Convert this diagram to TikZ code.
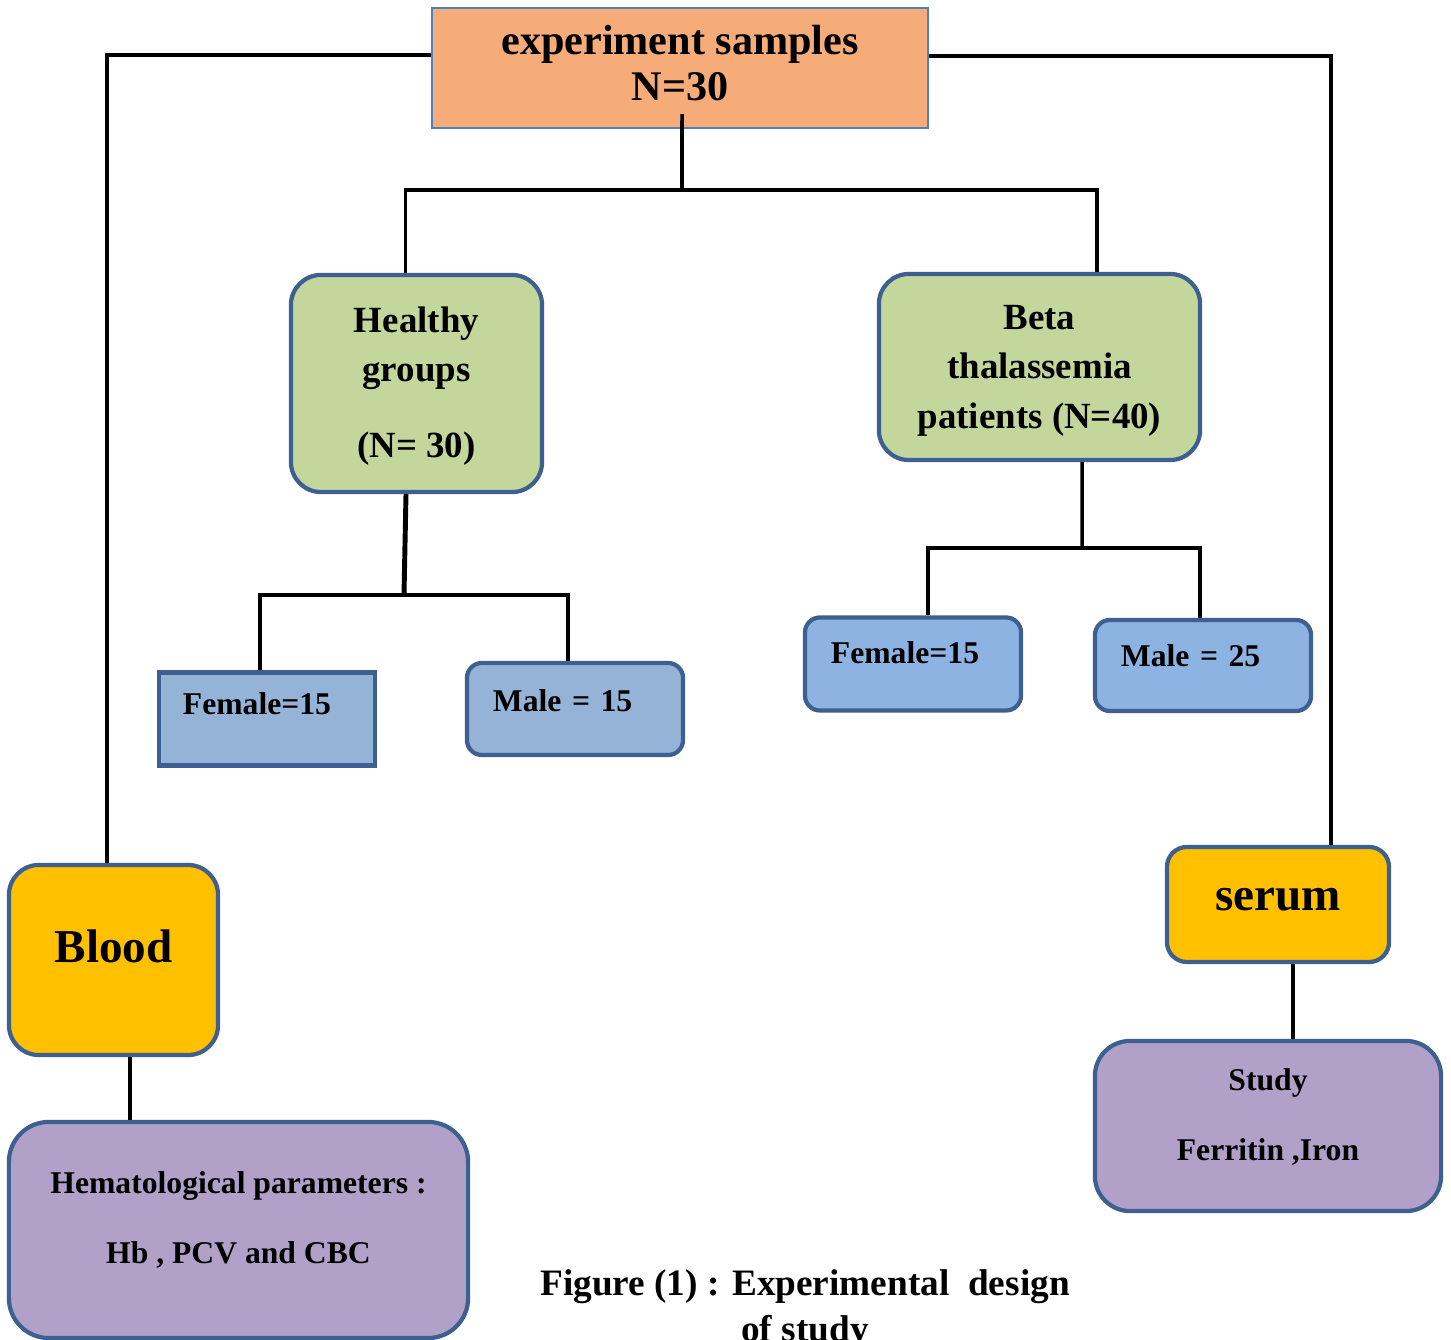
\documentclass[tikz,border=0pt]{standalone}
\usepackage{fontspec}
\setmainfont{Liberation Serif}
\usepackage{xcolor}
\usepackage{tikz}
\usetikzlibrary{calc}
\definecolor{peach}{HTML}{F5AC78}
\definecolor{peachline}{HTML}{4F81BD}
\definecolor{sage}{HTML}{C3D69B}
\definecolor{edge}{HTML}{3D6090}
\definecolor{sky}{HTML}{95B3D7}
\definecolor{skytwo}{HTML}{8DB3E2}
\definecolor{amber}{HTML}{FFC000}
\definecolor{lilac}{HTML}{B1A0C7}
\tikzset{
  wire/.style={draw=black, line width=1pt},
  wirebold/.style={draw=black, line width=1.4pt},
  headbox/.style={draw=peachline, line width=0.6pt, fill=peach, align=center,
    inner sep=0pt, font=\fontsize{12}{12.8}\selectfont\bfseries},
  groupbox/.style={draw=edge, line width=1.2pt, fill=sage, rounded corners=0.3cm,
    align=center, inner sep=0pt, font=\fontsize{10.5}{14}\selectfont\bfseries},
  sexbox/.style={draw=edge, line width=1.2pt, fill=sky, inner xsep=0.26cm, inner ysep=0pt,
    text width=1.64cm, align=left, minimum height=0.93cm, rounded corners=0.15cm,
    font=\fontsize{9}{11}\selectfont\bfseries},
  samplebox/.style={draw=edge, line width=1.2pt, fill=amber, inner sep=0pt,
    font=\fontsize{13.4}{16}\selectfont\bfseries},
  testbox/.style={draw=edge, line width=1.2pt, fill=lilac, align=center, inner sep=0pt,
    font=\fontsize{9}{19.7}\selectfont\bfseries},
  caption/.style={align=center, inner sep=0pt, font=\fontsize{10.6}{13}\selectfont\bfseries}
}
\begin{document}
\begin{tikzpicture}[x=0.01cm, y=-0.01cm]
  \useasboundingbox (0,0) rectangle (1451,1340);

  \node[headbox, minimum width=4.96cm, minimum height=1.20cm, text height=0.85cm, text depth=0.21cm]
    (top) at (680,68) {experiment samples\\N=30};

  \node[groupbox, minimum width=2.51cm, minimum height=2.17cm, text height=1.8cm, text depth=0.33cm]
    (healthy) at (416.5,383.5) {Healthy\\groups\\[7.4pt](N= 30)};
  \node[groupbox, minimum width=3.21cm, minimum height=1.86cm, text height=1.5cm, text depth=0.28cm]
    (beta) at (1039.5,367) {Beta\\thalassemia\\patients (N=40)};

  \node[sexbox, rounded corners=0pt, text height=0.2cm, text depth=0.28cm, inner xsep=0.24cm, text width=1.68cm]
    (fem1) at (267,719) {Female=15};
  \node[sexbox, minimum height=0.92cm, text height=0.2cm, text depth=0.14cm] (male1) at (575,709) {Male = 15};
  \node[sexbox, fill=skytwo, text height=0.2cm, text depth=0.2cm] (fem2) at (913,664) {Female=15};
  \node[sexbox, fill=skytwo, minimum height=0.91cm, text height=0.2cm, text depth=0.17cm]
    (male2) at (1203,665.5) {Male = 25};

  \node[samplebox, rounded corners=0.3cm, minimum width=2.09cm, minimum height=1.90cm,
    text height=0.3cm, text depth=0.26cm] (blood) at (113.5,960) {Blood};
  \node[samplebox, rounded corners=0.2cm, minimum width=2.22cm, minimum height=1.15cm,
    text height=0.3cm, text depth=0.19cm] (serum) at (1278,904.5) {serum};

  \node[testbox, rounded corners=0.4cm, minimum width=4.59cm, minimum height=2.16cm,
    text height=0.9cm, text depth=0.24cm] (hemat) at (238.5,1230)
    {Hematological parameters :\\Hb , PCV and CBC};
  \node[testbox, rounded corners=0.35cm, minimum width=3.46cm, minimum height=1.70cm,
    text height=0.9cm, text depth=0.22cm] (study) at (1268,1126) {Study\\Ferritin ,Iron};

  \node[caption, anchor=base] (fig) at (805,1341) {Figure (1) : Experimental\ \ design\\of study};

  \coordinate (j0) at (682,190);
  \coordinate (j1) at (404,595);
  \coordinate (j2) at (1082,548);

  \draw[wire] ([xshift=0.02cm, yshift=0.15cm]top.south) -- (j0);
  \draw[wire] (j0) -| ([xshift=-0.11cm]healthy.north);
  \draw[wire] (j0) -| ([xshift=0.575cm]beta.north);

  \draw[wire] ([yshift=0.13cm]top.west) -| ([xshift=-0.065cm]blood.north);
  \draw[wire] ([yshift=0.12cm]top.east) -| ([xshift=0.53cm]serum.north);

  \draw[wirebold] ([xshift=-0.105cm]healthy.south) -- (j1);
  \draw[wirebold] (j1) -| ([xshift=-0.07cm]fem1.north);
  \draw[wire] (j1) -| ([xshift=-0.07cm]male1.north);

  \draw[wire] ([xshift=0.425cm]beta.south) -- (j2);
  \draw[wire] (j2) -| ([xshift=0.15cm]fem2.north);
  \draw[wire] (j2) -| ([xshift=-0.03cm]male2.north);

  \draw[wire] ([xshift=0.165cm]blood.south) -- ([xshift=0.165cm]blood.south |- hemat.north);
  \draw[wire] ([xshift=0.15cm]serum.south) -- ([xshift=0.15cm]serum.south |- study.north);
\end{tikzpicture}
\end{document}
